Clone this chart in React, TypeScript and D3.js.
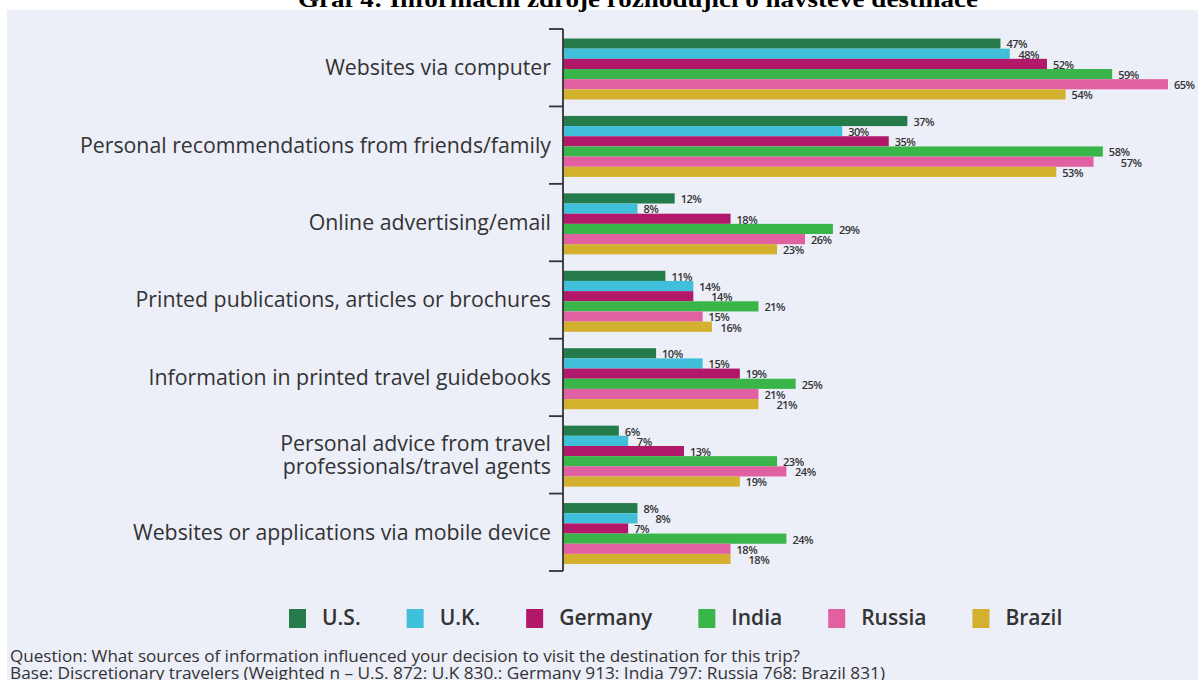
import React from 'react';
import * as d3 from 'd3';

// source categories, top to bottom
const categories = [
  'Websites via computer',
  'Personal recommendations from friends/family',
  'Online advertising/email',
  'Printed publications, articles or brochures',
  'Information in printed travel guidebooks',
  'Personal advice from travel professionals/travel agents',
  'Websites or applications via mobile device',
];

// label lines (the long one wraps in the original)
const categoryLines = [
  ['Websites via computer'],
  ['Personal recommendations from friends/family'],
  ['Online advertising/email'],
  ['Printed publications, articles or brochures'],
  ['Information in printed travel guidebooks'],
  ['Personal advice from travel', 'professionals/travel agents'],
  ['Websites or applications via mobile device'],
];

const countries = ['U.S.', 'U.K.', 'Germany', 'India', 'Russia', 'Brazil'];

const us = [47, 37, 12, 11, 10, 6, 8];
const uk = [48, 30, 8, 14, 15, 7, 8];
const germany = [52, 35, 18, 14, 19, 13, 7];
const india = [59, 58, 29, 21, 25, 23, 24];
const russia = [65, 57, 26, 15, 21, 24, 18];
const brazil = [54, 53, 23, 16, 21, 19, 18];

const series = [us, uk, germany, india, russia, brazil];

const colors = ['#267b4b', '#40bfdb', '#b2186a', '#3ab54a', '#e060a2', '#d3b12f'];

const title = 'Graf 4: Informační zdroje rozhodující o návštěvě destinace';
const question = 'Question: What sources of information influenced your decision to visit the destination for this trip?';
const base = 'Base: Discretionary travelers (Weighted n – U.S. 872: U.K 830.: Germany 913: India 797: Russia 768: Brazil 831)';

const W = 1198, H = 680;
const sans = "'Open Sans', sans-serif";
const ink = '#333';

function measure(text: string, font: string) {
  const c = document.createElement('canvas').getContext('2d');
  if (!c) return text.length * 10;
  c.font = font;
  return c.measureText(text).width;
}

export default function App() {
  const axisX = 563;
  const y = d3.scaleBand<string>().domain(categories).range([29, 571]);
  const inner = d3.scaleBand<string>().domain(countries).range([9.5, 70.5]);
  const x = d3.scaleLinear().domain([0, 65]).range([axisX, 1168]);

  // legend laid out left to right from the measured label widths
  const legendFont = `600 21px ${sans}`;
  let lx = 289;
  const legend = countries.map((c, i) => {
    const item = { c, i, x: lx };
    lx += 33 + measure(c, legendFont) + 46;
    return item;
  });

  const boundaries = [...categories.map(c => y(c) as number), 571];

  // value labels: stagger right when they would sit on the label above
  const labelX = categories.map((_, gi) => {
    let prev = -100;
    return series.map(vals => {
      let lxv = x(vals[gi]) + 6;
      if (Math.abs(lxv - prev) < 14) lxv = prev + 12;
      prev = lxv;
      return lxv;
    });
  });

  return (
    <svg width={W} height={H} style={{ position: 'absolute', left: 0, top: 0 }}>
      <rect width={W} height={H} fill="#fff" />
      <rect x={7} y={10} width={W - 7} height={H - 10} fill="#eceef8" />

      <text x={638} y={7} textAnchor="middle" fontFamily="'Liberation Serif', 'Times New Roman', serif"
        fontWeight="bold" fontSize={23} textLength={680} lengthAdjust="spacingAndGlyphs" fill="#000">
        {title}
      </text>

      {categories.map((cat, gi) => {
        const gy = y(cat) as number;
        return (
          <g key={cat}>
            {series.map((vals, si) => {
              const by = gy + (inner(countries[si]) as number);
              const bh = inner.bandwidth();
              const v = vals[gi];
              return (
                <g key={si}>
                  <rect x={axisX} y={by} width={x(v) - axisX} height={bh} fill={colors[si]} />
                  <text x={labelX[gi][si]} y={by + bh / 2 + 1} dy="0.35em" fontFamily={sans} fontWeight={600}
                    fontSize={11} letterSpacing={-0.5} fill={ink}>
                    {v}%
                  </text>
                </g>
              );
            })}
            {categoryLines[gi].map((line, li, arr) => (
              <text key={li} x={551} y={gy + y.bandwidth() / 2 + (li - (arr.length - 1) / 2) * 23}
                dy="0.35em" textAnchor="end" fontFamily={sans} fontSize={21.3} fill={ink}>
                {line}
              </text>
            ))}
          </g>
        );
      })}

      <line x1={axisX} x2={axisX} y1={29} y2={571} stroke={ink} strokeWidth={1.8} />
      {boundaries.map((b, i) => (
        <line key={i} x1={549} x2={axisX} y1={b} y2={b} stroke={ink} strokeWidth={1.8} />
      ))}

      {legend.map(({ c, i, x: ix }) => (
        <g key={c}>
          <rect x={ix} y={609} width={17} height={19} fill={colors[i]} />
          <text x={ix + 33} y={618} dy="0.35em" fontFamily={sans} fontWeight={600} fontSize={21} fill={ink}>
            {c}
          </text>
        </g>
      ))}

      <text x={10} y={662} fontFamily={sans} fontSize={16} textLength={790} lengthAdjust="spacingAndGlyphs" fill={ink}>
        {question}
      </text>
      <text x={10} y={679} fontFamily={sans} fontSize={16} textLength={875} lengthAdjust="spacingAndGlyphs" fill={ink}>
        {base}
      </text>
    </svg>
  );
}
